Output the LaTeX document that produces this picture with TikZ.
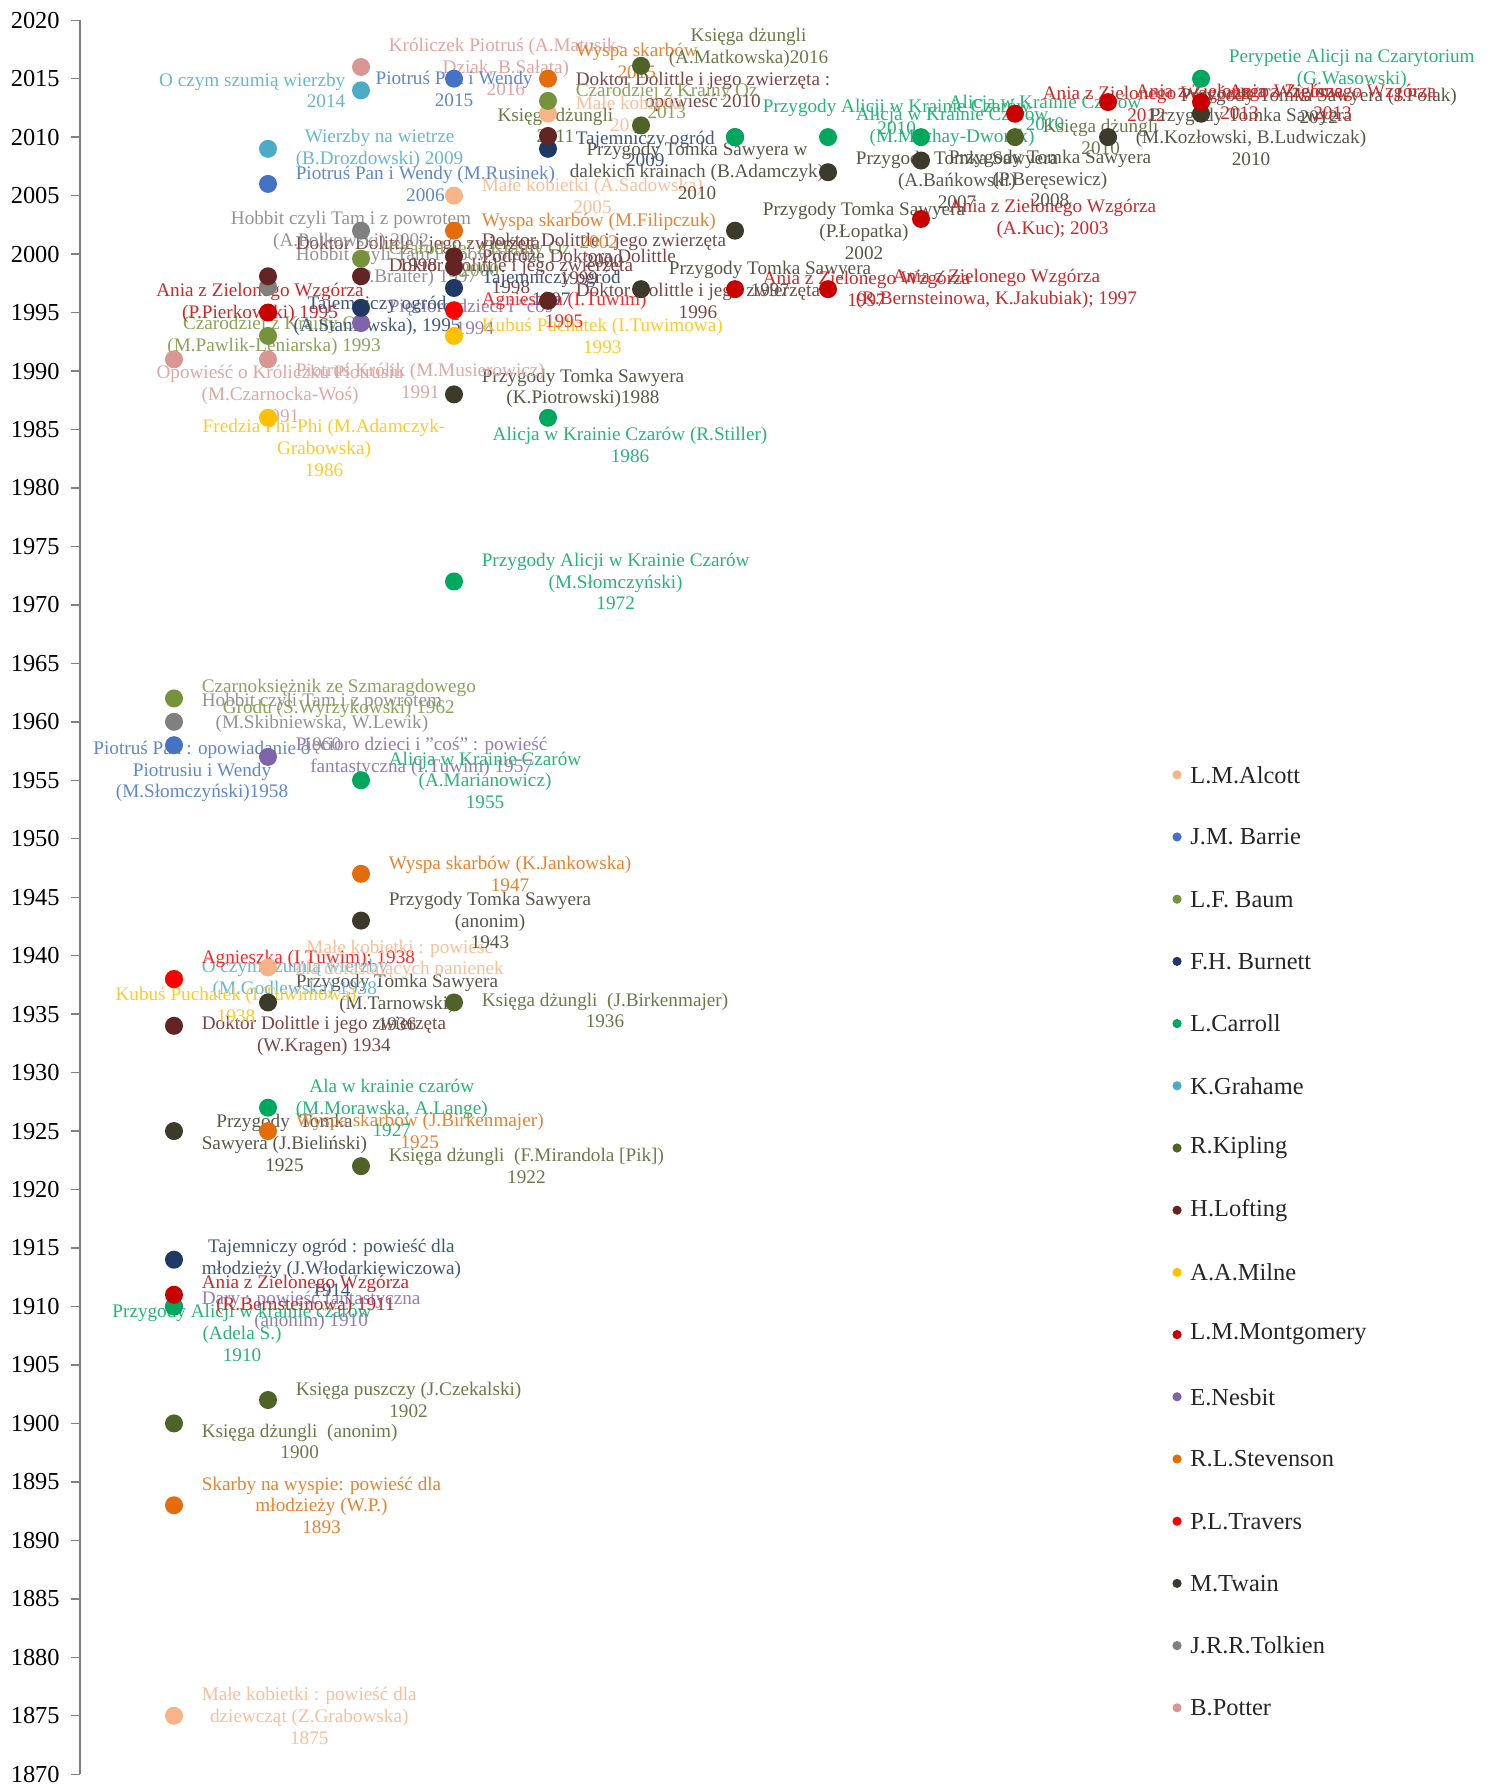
\documentclass[tikz,border=0pt]{standalone}
\usepackage{fontspec}
\setmainfont{Liberation Serif}
\usetikzlibrary{positioning}

\definecolor{cAlcott}{RGB}{246,180,136}
\definecolor{cBarrie}{RGB}{68,114,196}
\definecolor{cBaum}{RGB}{118,146,60}
\definecolor{cBurnett}{RGB}{31,56,100}
\definecolor{cCarroll}{RGB}{0,168,94}
\definecolor{cGrahame}{RGB}{75,172,198}
\definecolor{cKipling}{RGB}{79,98,40}
\definecolor{cLofting}{RGB}{99,37,35}
\definecolor{cMilne}{RGB}{255,192,0}
\definecolor{cMontgomery}{RGB}{200,0,0}
\definecolor{cNesbit}{RGB}{128,100,170}
\definecolor{cStevenson}{RGB}{228,108,10}
\definecolor{cTravers}{RGB}{255,0,0}
\definecolor{cTwain}{RGB}{60,58,42}
\definecolor{cTolkien}{RGB}{128,128,128}
\definecolor{cPotter}{RGB}{217,150,148}

\pgfdeclarelayer{labels}
\pgfsetlayers{labels,main}

\begin{document}
\begin{tikzpicture}[x=0.5pt, y=5.8465pt, node distance=8pt,
  dot/.style={circle, fill=#1, minimum size=9pt, inner sep=0pt},
  lab/.style={text=#1!85, font=\fontsize{9.6}{10.9}\selectfont, align=center, inner sep=1pt},
  legdot/.style={circle, fill=#1, minimum size=4.6pt, inner sep=0pt},
  legtxt/.style={font=\fontsize{12.2}{14}\selectfont, text=black!85, inner sep=1pt},
  axisline/.style={draw=black!50, line width=0.7pt},
  yearlab/.style={font=\fontsize{12.2}{14}\selectfont, anchor=east, inner sep=0pt}]

  \useasboundingbox (0,1868.931) rectangle (1493,2021.753);

  % axis
  \draw[axisline] (80,1870) -- (80,2020);
  \foreach \yr in {1870,1875,...,2020} {
    \draw[axisline] (71,\yr) -- (80,\yr);
    \node[yearlab] at (60,\yr) {\yr};
  }

  % column 1
  \node[dot=cAlcott] (alc1875) at (174,1875) {};
  \node[dot=cStevenson] (ste1893) at (174,1893) {};
  \node[dot=cKipling] (kip1900) at (174,1900) {};
  \node[dot=cNesbit] (nes1910) at (174,1910) {};
  \node[dot=cCarroll] (car1910) at (174,1910) {};
  \node[dot=cMontgomery] (mon1911) at (174,1911) {};
  \node[dot=cBurnett] (bur1914) at (174,1914) {};
  \node[dot=cTwain] (twa1925) at (174,1925) {};
  \node[dot=cLofting] (lof1934) at (174,1934) {};
  \node[dot=cGrahame] (gra1938) at (174,1938) {};
  \node[dot=cMilne] (mil1938) at (174,1938) {};
  \node[dot=cTravers] (tra1938) at (174,1938) {};
  \node[dot=cBarrie] (bar1958) at (174,1958) {};
  \node[dot=cTolkien] (tol1960) at (174,1960) {};
  \node[dot=cBaum] (bau1962) at (174,1962) {};
  \node[dot=cPotter] (pot1991a) at (174,1991) {};

  % column 2
  \node[dot=cKipling] (kip1902) at (268,1902) {};
  \node[dot=cStevenson] (ste1925) at (268,1925) {};
  \node[dot=cCarroll] (car1927) at (268,1927) {};
  \node[dot=cAlcott] (alc1939) at (268,1939) {};
  \node[dot=cTwain] (twa1936) at (268,1936) {};
  \node[dot=cNesbit] (nes1957) at (268,1957) {};
  \node[dot=cMilne] (mil1986) at (268,1986) {};
  \node[dot=cPotter] (pot1991b) at (268,1991) {};
  \node[dot=cBaum] (bau1993) at (268,1993) {};
  \node[dot=cMontgomery] (mon1995) at (268,1995) {};
  \node[dot=cTolkien] (tol1997) at (268,1997.2) {};
  \node[dot=cLofting] (lof1998) at (268,1998.1) {};
  \node[dot=cBarrie] (bar2006) at (268,2006) {};
  \node[dot=cGrahame] (gra2009) at (268,2009) {};

  % column 3
  \node[dot=cKipling] (kip1922) at (361,1922) {};
  \node[dot=cTwain] (twa1943) at (361,1943) {};
  \node[dot=cStevenson] (ste1947) at (361,1947) {};
  \node[dot=cCarroll] (car1955) at (361,1955) {};
  \node[dot=cNesbit] (nes1994) at (361,1994.1) {};
  \node[dot=cBurnett] (bur1995) at (361,1995.4) {};
  \node[dot=cLofting] (lof1998b) at (361,1998.1) {};
  \node[dot=cBaum] (bau2000) at (361,1999.6) {};
  \node[dot=cTolkien] (tol2002) at (361,2002) {};
  \node[dot=cGrahame] (gra2014) at (361,2014) {};
  \node[dot=cPotter] (pot2016) at (361,2016) {};

  % column 4
  \node[dot=cKipling] (kip1936) at (454,1936) {};
  \node[dot=cCarroll] (car1972) at (454,1972) {};
  \node[dot=cTwain] (twa1988) at (454,1988) {};
  \node[dot=cMilne] (mil1993) at (454,1993) {};
  \node[dot=cTravers] (tra1995) at (454,1995.2) {};
  \node[dot=cBurnett] (bur1997) at (454,1997.1) {};
  \node[dot=cLofting] (lof1999) at (454,1998.9) {};
  \node[dot=cLofting] (lof2000) at (454,1999.8) {};
  \node[dot=cStevenson] (ste2002) at (454,2002) {};
  \node[dot=cAlcott] (alc2005) at (454,2005) {};
  \node[dot=cBarrie] (bar2015) at (454,2015) {};

  % column 5
  \node[dot=cCarroll] (car1986) at (548,1986) {};
  \node[dot=cLofting] (lof1996) at (548,1996) {};
  \node[dot=cBurnett] (bur2009) at (548,2009) {};
  \node[dot=cLofting] (lof2010) at (548,2010.1) {};
  \node[dot=cAlcott] (alc2012) at (548,2012) {};
  \node[dot=cBaum] (bau2013) at (548,2013.1) {};
  \node[dot=cStevenson] (ste2015) at (548,2015) {};

  % columns 6 to 12
  \node[dot=cTwain] (twa1997) at (641,1997) {};
  \node[dot=cKipling] (kip2011) at (641,2011) {};
  \node[dot=cKipling] (kip2016) at (641,2016.1) {};
  \node[dot=cMontgomery] (mon1997) at (735,1997) {};
  \node[dot=cTwain] (twa2002) at (735,2002) {};
  \node[dot=cTwain] (twa2010) at (735,2010) {};
  \node[dot=cCarroll] (car2010) at (735,2010) {};
  \node[dot=cMontgomery] (mon1997b) at (828,1997) {};
  \node[dot=cTwain] (twa2007) at (828,2007) {};
  \node[dot=cCarroll] (car2010b) at (828,2010) {};
  \node[dot=cMontgomery] (mon2003) at (921,2003) {};
  \node[dot=cTwain] (twa2008) at (921,2008) {};
  \node[dot=cCarroll] (car2010c) at (921,2010) {};
  \node[dot=cKipling] (kip2010) at (1015,2010) {};
  \node[dot=cMontgomery] (mon2012) at (1015,2012) {};
  \node[dot=cTwain] (twa2010b) at (1108,2010) {};
  \node[dot=cMontgomery] (mon2013) at (1108,2013) {};
  \node[dot=cTwain] (twa2012) at (1201,2012) {};
  \node[dot=cMontgomery] (mon2013b) at (1201,2013) {};
  \node[dot=cCarroll] (car2015) at (1201,2015) {};

  % data labels (behind the dots)
  \begin{pgfonlayer}{labels}
  \node[lab=cAlcott, right=of alc1875] {Małe kobietki : powieść dla\\dziewcząt (Z.Grabowska)\\1875};
  \node[lab=cStevenson, right=of ste1893] {Skarby na wyspie: powieść dla\\młodzieży (W.P.)\\1893};
  \node[lab=cKipling, right=of kip1900, yshift=-9pt] {Księga dżungli \ (anonim)\\1900};
  \node[lab=cKipling, right=of kip1902] {Księga puszczy (J.Czekalski)\\1902};
  \node[lab=cCarroll, below=-7pt of car1910, xshift=34pt] {Przygody Alicji w krainie czarów\\(Adela S.)\\1910};
  \node[lab=cNesbit, right=of nes1910, yshift=-2pt] {Dary : powieść fantastyczna\\(anonim) 1910};
  \node[lab=cMontgomery, right=of mon1911] {Ania z Zielonego Wzgórza\\(R.Bernsteinowa) 1911};
  \node[lab=cBurnett, right=of bur1914, yshift=-4pt] {Tajemniczy ogród : powieść dla\\młodzieży (J.Włodarkiewiczowa)\\1914};
  \node[lab=cKipling, right=of kip1922] {Księga dżungli \ (F.Mirandola [Pik])\\1922};
  \node[lab=cTwain, right=of twa1925, yshift=-6pt] {Przygody \ Tomka\\Sawyera (J.Bieliński)\\1925};
  \node[lab=cStevenson, right=of ste1925] {Wyspa skarbów (J.Birkenmajer)\\1925};
  \node[lab=cCarroll, right=of car1927] {Ala w krainie czarów\\(M.Morawska, A.Lange)\\1927};
  \node[lab=cLofting, right=of lof1934, yshift=-5pt] {Doktor Dolittle i jego zwierzęta\\(W.Kragen) 1934};
  \node[lab=cTwain, right=of twa1936] {Przygody Tomka Sawyera\\(M.Tarnowski)\\1936};
  \node[lab=cKipling, right=of kip1936, yshift=-4pt] {Księga dżungli \ (J.Birkenmajer)\\1936};
  \node[lab=cGrahame, right=of gra1938] {O czym szumią wierzby\\(M.Godlewska) 1938};
  \node[lab=cMilne, below=-2pt of mil1938, xshift=31pt] {Kubuś Puchatek (I.Tuwimowa)\\1938};
  \node[lab=cTravers, right=of tra1938, yshift=10pt] {Agnieszka (I.Tuwim); 1938};
  \node[lab=cAlcott, right=of alc1939, yshift=4pt] {Małe kobietki : powieść\\dla dorastających panienek};
  \node[lab=cTwain, right=of twa1943] {Przygody Tomka Sawyera\\(anonim)\\1943};
  \node[lab=cStevenson, right=of ste1947] {Wyspa skarbów (K.Jankowska)\\1947};
  \node[lab=cCarroll, right=of car1955] {Alicja w Krainie Czarów\\(A.Marianowicz)\\1955};
  \node[lab=cNesbit, right=of nes1957] {Pięcioro dzieci i "coś" : powieść\\fantastyczna (I.Tuwim) 1957};
  \node[lab=cBarrie, below=-8pt of bar1958, xshift=14pt] {Piotruś Pan : opowiadanie o\\Piotrusiu i Wendy\\(M.Słomczyński)1958};
  \node[lab=cTolkien, right=of tol1960] {Hobbit czyli Tam i z powrotem\\(M.Skibniewska, W.Lewik)\\1960};
  \node[lab=cBaum, right=of bau1962] {Czarnoksiężnik ze Szmaragdowego\\Grodu (S.Wyrzykowski) 1962};
  \node[lab=cCarroll, right=of car1972] {Przygody Alicji w Krainie Czarów\\(M.Słomczyński)\\1972};
  \node[lab=cCarroll, below=-1pt of car1986, xshift=41pt] {Alicja w Krainie Czarów (R.Stiller)\\1986};
  \node[lab=cMilne, below=-5pt of mil1986, xshift=28pt] {Fredzia Phi-Phi (M.Adamczyk-\\Grabowska)\\1986};
  \node[lab=cTwain, right=of twa1988, yshift=3pt] {Przygody Tomka Sawyera\\(K.Piotrowski)1988};
  \node[lab=cPotter, below=-3pt of pot1991a, xshift=53pt] {Opowieść o Króliczku Piotrusiu\\(M.Czarnocka-Woś)\\1991};
  \node[lab=cPotter, right=of pot1991b, yshift=-11pt] {Piotruś Królik (M.Musierowicz)\\1991};
  \node[lab=cBaum, xshift=3pt] at (bau1993) {Czarodziej z Krainy Oz\\(M.Pawlik-Leniarska) 1993};
  \node[lab=cMontgomery, xshift=-4pt, yshift=5pt] at (mon1995) {Ania z Zielonego Wzgórza\\(P.Pierkowski) 1995};
  \node[lab=cTolkien, right=of tol1997, yshift=10pt] {Hobbit czyli Tam i z powrotem\\(P.Braiter) 1997};
  \node[lab=cLofting, right=of lof1998, yshift=11pt] {Doktor Dolittle i jego zwierzęta\\1998};
  \node[lab=cBarrie, right=of bar2006] {Piotruś Pan i Wendy (M.Rusinek)\\2006};
  \node[lab=cGrahame, right=of gra2009] {Wierzby na wietrze\\(B.Drozdowski) 2009};
  \node[lab=cNesbit, right=of nes1994, yshift=3pt] {Pięcioro dzieci i "coś"\\1994};
  \node[lab=cBurnett, xshift=8pt, yshift=-4pt] at (bur1995) {Tajemniczy ogród\\(A.Staniewska), 1995};
  \node[lab=cLofting, right=of lof1998b] {Doktor Dolittle i jego zwierzęta\\1998};
  \node[lab=cBaum, right=of bau2000] {Czarodziej z Krainy Oz\\2000};
  \node[lab=cTolkien, xshift=-5pt] at (tol2002) {Hobbit czyli Tam i z powrotem\\(A.Polkowski) 2002};
  \node[lab=cGrahame, left=2pt of gra2014, align=right] {O czym szumią wierzby\\2014};
  \node[lab=cPotter, right=of pot2016] {Króliczek Piotruś (A.Matusik-\\Dziak, B.Sałata)\\2016};
  \node[lab=cMilne, right=of mil1993] {Kubuś Puchatek (I.Tuwimowa)\\1993};
  \node[lab=cTravers, right=of tra1995] {Agnieszka (I.Tuwim)\\1995};
  \node[lab=cBurnett, right=of bur1997] {Tajemniczy ogród\\1997};
  \node[lab=cLofting, right=of lof1999] {Podróże Doktora Dolittle\\1999};
  \node[lab=cLofting, right=of lof2000, yshift=3pt] {Doktor Dolittle i jego zwierzęta\\2000};
  \node[lab=cStevenson, right=of ste2002] {Wyspa skarbów (M.Filipczuk)\\2002};
  \node[lab=cAlcott, right=of alc2005] {Małe kobietki (A.Sadowska)\\2005};
  \node[lab=cBarrie, yshift=-5pt] at (bar2015) {Piotruś Pan i Wendy\\2015};
  \node[lab=cLofting, right=of lof1996] {Doktor Dolittle i jego zwierzęta\\1996};
  \node[lab=cBurnett, right=of bur2009] {Tajemniczy ogród\\2009};
  \node[lab=cLofting, right=of lof2010, yshift=22pt] {Doktor Dolittle i jego zwierzęta :\\opowieść 2010};
  \node[lab=cAlcott, right=of alc2012] {Małe kobietki\\2012};
  \node[lab=cBaum, right=of bau2013] {Czarodziej z Krainy Oz\\2013};
  \node[lab=cStevenson, right=of ste2015, yshift=9pt] {Wyspa skarbów\\2015};
  \node[lab=cTwain, right=of twa1997, yshift=5pt] {Przygody Tomka Sawyera\\1997};
  \node[lab=cKipling, left=of kip2011] {Księga dżungli\\2011};
  \node[lab=cKipling, right=of kip2016, yshift=9pt] {Księga dżungli\\(A.Matkowska)2016};
  \node[lab=cMontgomery, right=of mon1997] {Ania z Zielonego Wzgórza\\1997};
  \node[lab=cTwain, right=of twa2002] {Przygody Tomka Sawyera\\(P.Łopatka)\\2002};
  \node[lab=cTwain, xshift=-19pt, yshift=-17pt] at (twa2010) {Przygody Tomka Sawyera w\\dalekich krainach (B.Adamczyk)\\2010};
  \node[lab=cCarroll, right=of car2010, yshift=10pt] {Przygody Alicji w Krainie Czarów\\2010};
  \node[lab=cMontgomery, right=of mon1997b] {Ania z Zielonego Wzgórza\\(R.Bernsteinowa, K.Jakubiak); 1997};
  \node[lab=cTwain, right=of twa2007, yshift=-4pt] {Przygody Tomka Sawyera\\(A.Bańkowski)\\2007};
  \node[lab=cCarroll, right=of car2010b, yshift=5pt] {Alicja w Krainie Czarów\\(M.Machay-Dworak)};
  \node[lab=cMontgomery, right=of mon2003] {Ania z Zielonego Wzgórza\\(A.Kuc); 2003};
  \node[lab=cTwain, right=of twa2008, yshift=-9pt] {Przygody Tomka Sawyera\\(P.Beręsewicz)\\2008};
  \node[lab=cCarroll, right=of car2010c, yshift=12pt] {Alicja w Krainie Czarów\\2010};
  \node[lab=cKipling, right=of kip2010] {Księga dżungli\\2010};
  \node[lab=cMontgomery, right=of mon2012, yshift=5pt] {Ania z Zielonego Wzgórza\\2012};
  \node[lab=cTwain, right=of twa2010b] {Przygody Tomka Sawyera\\(M.Kozłowski, B.Ludwiczak)\\2010};
  \node[lab=cMontgomery, right=of mon2013] {Ania z Zielonego Wzgórza\\2013};
  \node[lab=cTwain, right=of twa2012, xshift=-24pt, yshift=4pt] {Przygody Tomka Sawyera (J.Polak)\\2012};
  \node[lab=cMontgomery, right=of mon2013b] {Ania z Zielonego Wzgórza\\2013};
  \node[lab=cCarroll, right=of car2015, yshift=5pt] {Perypetie Alicji na Czarytorium\\(G.Wasowski)};
  \end{pgfonlayer}

  % legend
  \node[legdot=cAlcott] (kAlcott) at (1177,1955.47) {};
  \node[legdot=cBarrie, below=26.1pt of kAlcott] (kBarrie) {};
  \node[legdot=cBaum, below=26.1pt of kBarrie] (kBaum) {};
  \node[legdot=cBurnett, below=26.1pt of kBaum] (kBurnett) {};
  \node[legdot=cCarroll, below=26.1pt of kBurnett] (kCarroll) {};
  \node[legdot=cGrahame, below=26.1pt of kCarroll] (kGrahame) {};
  \node[legdot=cKipling, below=26.1pt of kGrahame] (kKipling) {};
  \node[legdot=cLofting, below=26.1pt of kKipling] (kLofting) {};
  \node[legdot=cMilne, below=26.1pt of kLofting] (kMilne) {};
  \node[legdot=cMontgomery, below=26.1pt of kMilne] (kMontgomery) {};
  \node[legdot=cNesbit, below=26.1pt of kMontgomery] (kNesbit) {};
  \node[legdot=cStevenson, below=26.1pt of kNesbit] (kStevenson) {};
  \node[legdot=cTravers, below=26.1pt of kStevenson] (kTravers) {};
  \node[legdot=cTwain, below=26.1pt of kTravers] (kTwain) {};
  \node[legdot=cTolkien, below=26.1pt of kTwain] (kTolkien) {};
  \node[legdot=cPotter, below=26.1pt of kTolkien] (kPotter) {};

  \node[legtxt, right=3pt of kAlcott] {L.M.Alcott};
  \node[legtxt, right=3pt of kBarrie] {J.M. Barrie};
  \node[legtxt, right=3pt of kBaum] {L.F. Baum};
  \node[legtxt, right=3pt of kBurnett] {F.H. Burnett};
  \node[legtxt, right=3pt of kCarroll] {L.Carroll};
  \node[legtxt, right=3pt of kGrahame] {K.Grahame};
  \node[legtxt, right=3pt of kKipling] {R.Kipling};
  \node[legtxt, right=3pt of kLofting] {H.Lofting};
  \node[legtxt, right=3pt of kMilne] {A.A.Milne};
  \node[legtxt, right=3pt of kMontgomery] {L.M.Montgomery};
  \node[legtxt, right=3pt of kNesbit] {E.Nesbit};
  \node[legtxt, right=3pt of kStevenson] {R.L.Stevenson};
  \node[legtxt, right=3pt of kTravers] {P.L.Travers};
  \node[legtxt, right=3pt of kTwain] {M.Twain};
  \node[legtxt, right=3pt of kTolkien] {J.R.R.Tolkien};
  \node[legtxt, right=3pt of kPotter] {B.Potter};

\end{tikzpicture}
\end{document}
